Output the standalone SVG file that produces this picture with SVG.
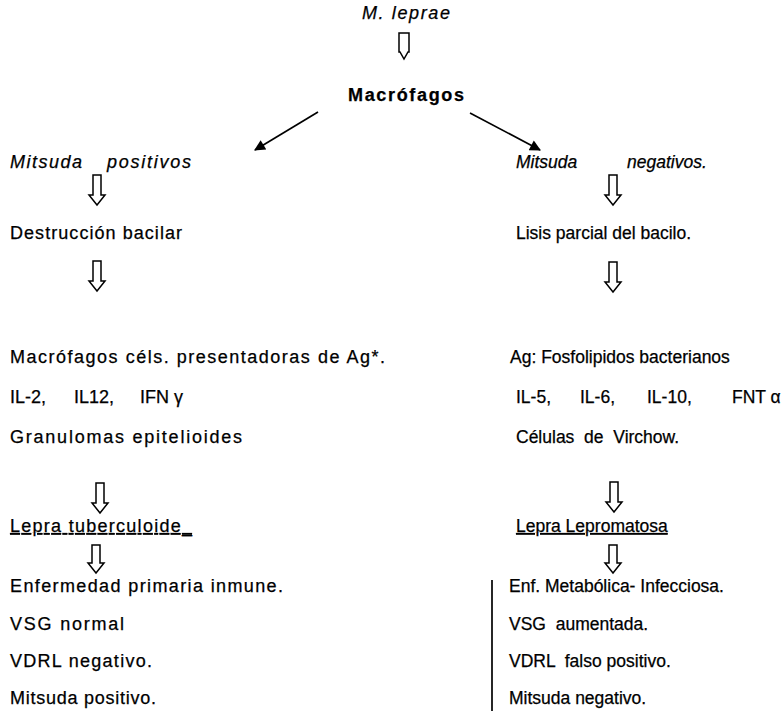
<svg xmlns="http://www.w3.org/2000/svg" width="783" height="711" viewBox="0 0 783 711">
<style>
text{font-family:"Liberation Sans",Arial,sans-serif;font-size:18px;fill:#000;stroke:#000;stroke-width:0.25}
.r{font-size:17.5px}
.i{font-style:italic}
.b{font-weight:bold}
.u{text-decoration:underline}
.ha{fill:#fff;stroke:#000;stroke-width:1.5}
.ln{stroke:#000;stroke-width:1.7;fill:none}
</style>
<defs>
<marker id="ah" viewBox="0 0 10 10" refX="9" refY="5" markerWidth="14" markerHeight="11" orient="auto" markerUnits="userSpaceOnUse">
<path d="M0,0 L10,5 L0,10 z" fill="#000"/>
</marker>
<path id="dn" d="M-4,0 L-4,20 L-8,20 L0,30 L8,20 L4,20 L4,0 Z"/>
<path id="dns" d="M-4,0 L-4,18 L-8,18 L0,28 L8,18 L4,18 L4,0 Z"/>
</defs>
<rect width="783" height="711" fill="#fff"/>

<g id="n-mleprae"><text class="i" x="406" y="19" text-anchor="middle" textLength="88" lengthAdjust="spacing">M. leprae</text></g>
<g id="n-macrofagos"><text class="b" x="406" y="101" text-anchor="middle" textLength="116" lengthAdjust="spacing">Macrófagos</text></g>

<g id="n-mit-pos">
<text class="i" x="10" y="168" textLength="72" lengthAdjust="spacing">Mitsuda</text>
<text class="i" x="107" y="168" textLength="84" lengthAdjust="spacing">positivos</text>
</g>
<g id="n-destruccion"><text x="10" y="239" textLength="172" lengthAdjust="spacing">Destrucción bacilar</text></g>
<g id="n-left-mid">
<text x="10" y="363" textLength="375" lengthAdjust="spacing">Macrófagos céls. presentadoras de Ag*.</text>
<text x="10" y="403"><tspan x="10">IL-2,</tspan><tspan x="74">IL12,</tspan><tspan x="140">IFN γ</tspan></text>
<text x="10" y="443" textLength="232" lengthAdjust="spacing">Granulomas  epitelioides</text>
</g>
<g id="n-tuberculoide"><text class="u" x="10" y="532" textLength="182" lengthAdjust="spacing">Lepra tuberculoide_</text></g>
<g id="n-left-bottom">
<text x="10" y="592" textLength="273" lengthAdjust="spacing">Enfermedad primaria inmune.</text>
<text x="10" y="630" textLength="114" lengthAdjust="spacing">VSG normal</text>
<text x="10" y="667" textLength="142" lengthAdjust="spacing">VDRL negativo.</text>
<text x="10" y="704" textLength="146" lengthAdjust="spacing">Mitsuda positivo.</text>
</g>

<g id="n-mit-neg"><text class="i r" x="516" y="168"><tspan x="516">Mitsuda</tspan><tspan x="627">negativos.</tspan></text></g>
<g id="n-lisis"><text class="r" x="516" y="239">Lisis parcial del bacilo.</text></g>
<g id="n-right-mid">
<text class="r" x="510" y="363">Ag: Fosfolipidos bacterianos</text>
<text class="r" x="516" y="403"><tspan x="516">IL-5,</tspan><tspan x="580">IL-6,</tspan><tspan x="647">IL-10,</tspan><tspan x="732">FNT α</tspan></text>
<text class="r" x="516" y="443" xml:space="preserve">Células  de  Virchow.</text>
</g>
<g id="n-lepromatosa"><text class="u r" x="516" y="532">Lepra Lepromatosa</text></g>
<g id="n-right-bottom">
<text class="r" x="509" y="592">Enf. Metabólica- Infecciosa.</text>
<text class="r" x="509" y="630" xml:space="preserve">VSG  aumentada.</text>
<text class="r" x="509" y="667" xml:space="preserve">VDRL  falso positivo.</text>
<text class="r" x="509" y="704">Mitsuda negativo.</text>
</g>

<g id="connectors">
<path class="ha" d="M399,33 L399,52 L400,52 L404,59 L408,52 L409,52 L409,33 Z"/>
<line class="ln" x1="318" y1="112" x2="255" y2="150" marker-end="url(#ah)"/>
<line class="ln" x1="470" y1="113" x2="540" y2="150" marker-end="url(#ah)"/>
<use href="#dn" class="ha" x="97" y="175"/>
<use href="#dn" class="ha" x="97" y="261"/>
<use href="#dn" class="ha" x="100" y="483"/>
<use href="#dns" class="ha" x="96" y="545"/>
<use href="#dn" class="ha" x="613" y="175"/>
<use href="#dn" class="ha" x="613" y="262"/>
<use href="#dn" class="ha" x="614" y="482"/>
<use href="#dns" class="ha" x="613" y="545"/>
<line class="ln" x1="492" y1="580" x2="492" y2="711"/>
</g>
</svg>
